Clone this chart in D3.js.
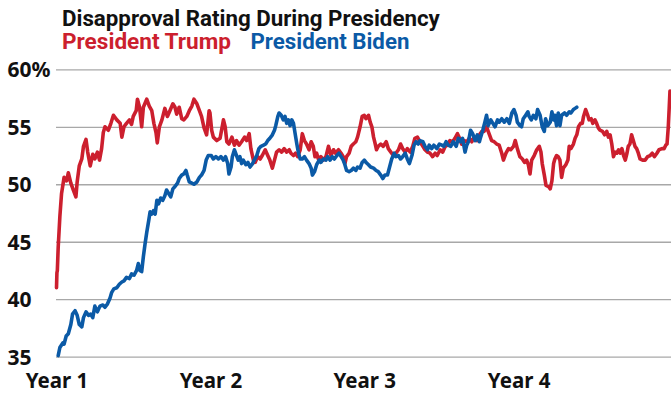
<!DOCTYPE html>
<html>
<head>
<meta charset="utf-8">
<script src="https://cdn.jsdelivr.net/npm/d3@7"></script>
<style>
  html, body { margin: 0; padding: 0; background: #fff; }
  svg { display: block; font-family: "Noto Sans", "Open Sans", sans-serif; }
</style>
</head>
<body>
<svg id="chart"></svg>
<script>
// [day of term, disapproval %]
const trump = [
  [0,41.0],[1,42.3],[2,42.5],[4,44.5],[8,47.2],[12,49.2],[18,50.6],[24,50.3],[28,51.0],[34,50.1],
  [40,49.5],[46,48.9],[49,50.2],[54,51.6],[60,52.2],[64,53.3],[70,53.9],[74,52.8],[80,51.6],[86,52.6],
  [91,52.2],[97,52.8],[102,52.1],[107,53.1],[111,54.5],[115,55.0],[123,54.7],[129,55.3],[135,56.0],[143,55.6],
  [151,55.3],[155,54.1],[160,55.0],[166,55.3],[173,55.6],[178,55.2],[182,55.9],[189,56.4],[192,57.4],[197,56.7],
  [202,55.0],[206,56.7],[214,57.4],[220,56.8],[226,56.4],[231,55.3],[236,54.5],[239,53.6],[244,55.0],[250,55.6],
  [257,56.6],[263,55.9],[269,56.4],[276,57.0],[281,56.7],[285,56.1],[291,56.7],[297,55.7],[302,55.6],[309,55.9],
  [315,56.4],[321,56.8],[326,57.4],[333,57.0],[339,56.4],[344,55.9],[350,54.9],[356,54.3],[362,56.4],[364,56.2],
  [368,54.7],[372,54.1],[380,53.8],[388,54.0],[396,55.6],[400,55.0],[404,53.7],[409,53.5],[416,54.1],[422,53.4],
  [427,53.8],[433,53.4],[439,53.7],[446,54.1],[451,53.8],[457,54.4],[461,53.1],[467,52.1],[471,51.9],[477,52.4],
  [483,52.2],[488,52.5],[495,53.0],[501,52.5],[506,52.1],[512,51.4],[517,52.1],[522,52.8],[528,53.0],[534,52.8],
  [540,53.1],[546,52.8],[552,53.0],[556,52.7],[562,52.5],[567,52.7],[572,52.4],[578,53.0],[583,54.4],[588,53.8],
  [593,53.5],[599,53.0],[604,53.7],[609,53.3],[613,52.4],[617,52.7],[621,52.2],[627,52.4],[633,52.1],[639,52.4],
  [645,53.3],[651,52.5],[657,53.0],[662,52.7],[669,53.0],[675,52.7],[680,52.4],[684,51.8],[688,52.4],[694,52.7],
  [699,53.3],[704,53.5],[710,53.7],[714,54.1],[720,55.0],[725,55.9],[730,56.0],[734,55.7],[740,56.0],[744,55.4],
  [748,55.0],[752,54.1],[756,53.5],[759,53.0],[763,53.3],[769,53.5],[775,53.3],[782,53.7],[787,53.1],[793,52.8],
  [799,52.5],[805,52.7],[811,53.0],[816,53.5],[821,53.1],[827,52.8],[832,53.1],[839,52.8],[845,53.3],[850,54.0],
  [856,54.1],[862,53.7],[869,53.3],[874,53.0],[880,52.8],[886,52.7],[892,52.4],[898,52.7],[903,52.5],[910,53.0],
  [916,52.8],[922,53.3],[927,53.4],[933,53.8],[940,53.7],[945,54.0],[951,54.4],[956,54.0],[961,53.5],[967,53.8],
  [973,53.7],[979,54.0],[985,53.7],[990,54.1],[997,53.8],[1003,54.3],[1009,54.6],[1014,54.6],[1020,55.0],[1027,54.3],
  [1032,53.8],[1038,53.7],[1044,53.5],[1050,53.4],[1056,52.7],[1060,52.1],[1066,52.7],[1072,53.1],[1077,53.0],[1084,53.3],
  [1088,53.8],[1093,53.1],[1099,52.4],[1105,52.2],[1110,51.9],[1115,52.1],[1119,51.7],[1123,50.9],[1127,52.1],[1133,52.5],
  [1139,53.0],[1145,53.3],[1149,52.8],[1152,51.8],[1157,50.8],[1161,49.9],[1167,49.8],[1171,49.6],[1175,50.3],[1179,51.8],
  [1182,52.2],[1186,52.5],[1190,52.4],[1194,52.1],[1198,50.6],[1202,51.4],[1208,51.7],[1213,52.1],[1216,53.3],[1220,53.1],
  [1226,53.5],[1230,54.0],[1234,54.3],[1238,55.0],[1243,55.3],[1247,55.3],[1250,55.9],[1255,56.5],[1260,56.0],[1263,55.6],
  [1268,55.7],[1272,55.3],[1277,55.6],[1281,55.3],[1285,54.9],[1289,54.7],[1295,54.6],[1300,54.3],[1305,54.6],[1309,54.1],
  [1313,54.3],[1317,53.5],[1321,52.4],[1325,52.8],[1329,52.7],[1333,53.0],[1337,52.7],[1341,53.1],[1345,52.5],[1349,52.1],
  [1353,52.7],[1356,53.3],[1360,53.5],[1364,54.3],[1368,53.8],[1372,53.3],[1376,53.1],[1380,52.7],[1384,52.2],[1390,52.1],
  [1396,52.1],[1402,52.4],[1408,52.5],[1413,52.7],[1418,52.4],[1424,52.7],[1429,53.0],[1436,53.1],[1441,53.1],[1445,53.4],
  [1448,53.5],[1451,55.0],[1453,56.5],[1455,58.1]
];

const biden = [
  [4,35.1],[8,35.8],[15,36.2],[18,36.1],[23,36.8],[28,37.0],[34,37.8],[38,38.7],[44,39.0],[49,38.6],
  [54,37.8],[60,37.6],[64,38.4],[70,38.9],[76,38.6],[81,38.7],[86,38.4],[91,39.4],[97,38.9],[103,39.4],
  [110,39.5],[115,39.3],[121,39.6],[127,40.1],[131,40.6],[136,40.9],[143,41.0],[149,41.3],[155,41.5],[160,41.6],
  [166,41.9],[173,41.8],[178,42.2],[184,42.1],[190,42.5],[194,43.1],[198,42.5],[202,42.4],[206,43.7],[210,44.8],
  [214,45.8],[219,46.9],[222,47.6],[226,47.4],[230,47.7],[234,47.4],[238,48.6],[242,48.3],[247,48.8],[252,48.6],
  [257,49.0],[261,49.5],[266,49.2],[271,48.9],[276,49.6],[281,49.8],[287,50.1],[291,50.5],[297,50.8],[302,50.9],
  [307,51.2],[310,50.8],[315,50.2],[321,50.1],[326,50.0],[333,50.2],[339,50.6],[344,50.8],[350,51.2],[355,52.1],
  [360,52.5],[367,52.5],[372,52.2],[378,52.4],[384,52.2],[390,52.4],[396,52.1],[401,52.4],[406,51.8],[409,50.9],
  [414,51.5],[417,52.4],[422,53.0],[427,52.5],[431,52.1],[435,52.4],[439,51.8],[443,52.1],[449,51.7],[454,51.9],
  [459,51.5],[465,51.8],[469,52.1],[475,52.5],[480,53.1],[485,53.3],[491,53.4],[496,53.5],[501,53.8],[506,54.0],
  [512,54.3],[517,54.7],[520,55.1],[525,55.9],[528,56.2],[533,56.0],[538,55.6],[542,55.9],[546,55.3],[550,55.6],
  [554,55.1],[558,55.6],[562,55.3],[566,54.4],[570,53.5],[574,52.7],[578,52.2],[583,52.2],[588,52.4],[593,52.1],
  [599,51.8],[604,51.4],[607,50.8],[612,51.1],[617,51.7],[623,52.1],[627,51.9],[633,52.2],[639,52.1],[643,52.4],
  [649,52.1],[654,52.4],[659,52.2],[665,52.5],[670,52.7],[675,52.4],[680,52.1],[684,51.7],[688,51.2],[694,51.1],
  [699,51.2],[704,51.4],[710,51.2],[714,51.5],[720,51.4],[725,51.9],[730,52.1],[734,51.9],[740,51.7],[745,51.5],
  [752,51.4],[758,51.2],[763,51.1],[769,50.8],[774,50.5],[779,50.8],[785,50.8],[790,51.5],[795,52.2],[801,52.7],
  [805,52.4],[811,52.5],[816,52.2],[821,52.4],[827,52.7],[832,52.2],[837,51.8],[843,52.5],[848,53.4],[853,53.7],
  [858,53.5],[862,53.8],[869,53.7],[874,53.3],[880,53.0],[884,53.4],[890,53.1],[895,53.4],[902,53.1],[908,53.5],
  [914,53.4],[919,53.3],[924,53.7],[929,53.4],[935,53.3],[941,53.7],[948,53.3],[953,54.0],[959,53.7],[963,54.0],
  [969,52.8],[973,53.4],[977,53.7],[982,54.7],[987,54.4],[993,53.8],[998,54.3],[1003,53.7],[1006,54.1],[1011,54.7],
  [1016,55.4],[1020,56.0],[1024,55.1],[1030,55.6],[1035,55.3],[1040,55.0],[1046,55.6],[1050,55.4],[1056,55.7],[1062,55.4],
  [1068,55.7],[1074,55.3],[1080,56.2],[1085,56.5],[1090,56.0],[1093,55.4],[1099,55.1],[1103,55.0],[1107,55.7],[1111,55.9],
  [1118,56.3],[1121,55.9],[1126,55.6],[1131,56.0],[1137,55.7],[1141,56.5],[1147,56.0],[1152,55.0],[1157,54.6],[1160,55.7],
  [1165,55.1],[1171,55.4],[1175,56.3],[1179,55.6],[1182,56.0],[1186,55.1],[1190,56.2],[1194,55.1],[1198,56.0],[1205,56.2],
  [1210,56.0],[1216,56.3],[1220,56.2],[1226,56.5],[1230,56.6],[1234,56.7]
];

const yTicks = [35, 40, 45, 50, 55, 60];
const yearLabels = ['Year 1', 'Year 2', 'Year 3', 'Year 4'];
const yearStarts = [0, 365, 730, 1096];

const width = 671, height = 394;
const fontFamily = '"Noto Sans", "Open Sans", sans-serif';
const titleFont = 'Roboto, "Noto Sans", sans-serif';
const colorMap = { trump: '#cc1f2e', biden: '#0b5aa6', grid: '#a8a8a8', text: '#111' };

let svg = d3.select('#chart')
  .attr('width', width)
  .attr('height', height);

let x = d3.scaleLinear()
  .domain([0, 1461])
  .range([56.5, 672.5]);

let y = d3.scaleLinear()
  .domain([35, 60])
  .range([356.7, 69.3]);

// fit a text element to a measured width
function fitText(sel, target) {
  let size = parseFloat(sel.attr('font-size'));
  let len = sel.node().getComputedTextLength();
  sel.attr('font-size', (size * target / len).toFixed(2));
}

// TITLE
let title = svg.append('text')
  .attr('x', 62)
  .attr('y', 25.5)
  .attr('font-family', titleFont)
  .attr('font-size', 20)
  .attr('font-weight', 700)
  .attr('fill', colorMap.text)
  .text('Disapproval Rating During Presidency');
fitText(title, 378);

let t1 = svg.append('text')
  .attr('x', 62)
  .attr('y', 49)
  .attr('font-family', titleFont)
  .attr('font-size', 20)
  .attr('font-weight', 700)
  .attr('fill', colorMap.trump)
  .text('President Trump');
fitText(t1, 169);

let t2 = svg.append('text')
  .attr('x', 250.5)
  .attr('y', 49)
  .attr('font-family', titleFont)
  .attr('font-size', 20)
  .attr('font-weight', 700)
  .attr('fill', colorMap.biden)
  .text('President Biden');
fitText(t2, 159);

// GRID + Y LABELS
let yAxis = svg.append('g')
  .attr('class', 'axis axis-y')
  .attr('transform', 'translate(56, 0)')
  .call(d3.axisRight(y)
    .tickValues(yTicks)
    .tickSize(width - 56)
    .tickFormat((d) => d === 60 ? d + '%' : d));

yAxis.select('.domain').remove();

yAxis.selectAll('.tick line')
  .attr('stroke', colorMap.grid)
  .attr('stroke-width', 1.3);

yAxis.selectAll('.tick text')
  .attr('x', -48.5)
  .attr('dy', '0.36em')
  .attr('text-anchor', 'start')
  .attr('font-family', fontFamily)
  .attr('font-size', 21)
  .attr('font-weight', 700)
  .attr('fill', colorMap.text);

// X LABELS
let xAxis = svg.append('g')
  .attr('class', 'axis axis-x')
  .attr('transform', `translate(0, ${y(35)})`)
  .call(d3.axisBottom(x)
    .tickValues(yearStarts)
    .tickSize(0)
    .tickFormat((d, i) => yearLabels[i]));

xAxis.select('.domain').remove();

xAxis.selectAll('.tick text')
  .attr('y', 31.5)
  .attr('dy', 0)
  .attr('font-family', fontFamily)
  .attr('font-size', 20.5)
  .attr('font-weight', 700)
  .attr('fill', colorMap.text);

// LINES
let line = d3.line()
  .x((d) => x(d[0]))
  .y((d) => y(d[1]));

svg.append('path')
  .datum(trump)
  .attr('fill', 'none')
  .attr('stroke', colorMap.trump)
  .attr('stroke-width', 3.6)
  .attr('stroke-linejoin', 'round')
  .attr('stroke-linecap', 'round')
  .attr('d', line);

svg.append('path')
  .datum(biden)
  .attr('fill', 'none')
  .attr('stroke', colorMap.biden)
  .attr('stroke-width', 3.6)
  .attr('stroke-linejoin', 'round')
  .attr('stroke-linecap', 'round')
  .attr('d', line);
</script>
</body>
</html>
